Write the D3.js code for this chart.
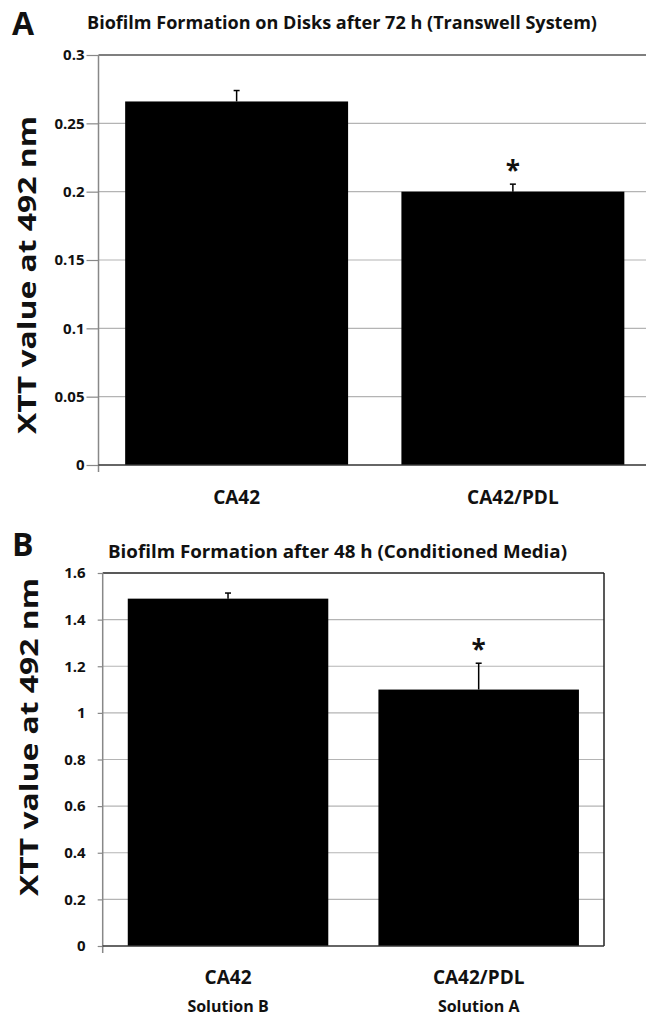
<!DOCTYPE html>
<html>
<head>
<meta charset="utf-8">
<script src="https://cdn.jsdelivr.net/npm/d3@7"></script>
<style>
  body { margin: 0; background: #fff; }
  text { font-family: "Open Sans", "Liberation Sans", sans-serif; font-weight: 700; fill: #111; }
</style>
</head>
<body>
<div id="chart"></div>
<script>
const width = 646, height = 1019;

// data
const categories = ["CA42", "CA42/PDL"];
const subLabels = ["Solution B", "Solution A"];
const valuesA = [0.266, 0.200];
const errorsA = [0.008, 0.0055];
const valuesB = [1.49, 1.10];
const errorsB = [0.024, 0.113];
const ticksA = [0, 0.05, 0.1, 0.15, 0.2, 0.25, 0.3];
const ticksB = [0, 0.2, 0.4, 0.6, 0.8, 1, 1.2, 1.4, 1.6];
const starsA = ["", "*"];
const starsB = ["", "*"];

const svg = d3.select("#chart")
  .append("svg")
  .attr("width", width)
  .attr("height", height);

function panel(opt) {
  let x = d3.scaleBand()
    .domain(categories)
    .range([opt.left, opt.right])
    .paddingInner(opt.gap)
    .paddingOuter(opt.gap / 2);

  let y = d3.scaleLinear()
    .domain([0, opt.max])
    .range([opt.bottom, opt.top]);

  let g = svg.append("g");

  // gridlines
  g.selectAll(".grid")
    .data(opt.ticks.filter(t => t > 0 && t < opt.max))
    .join("line")
    .attr("x1", opt.left).attr("x2", opt.right)
    .attr("y1", d => y(d)).attr("y2", d => y(d))
    .attr("stroke", "#b4b4b4")
    .attr("stroke-width", 1.2);

  // frame top / right
  g.append("line")
    .attr("x1", opt.left).attr("x2", opt.right)
    .attr("y1", y(opt.max)).attr("y2", y(opt.max))
    .attr("stroke", opt.frameColor).attr("stroke-width", 1.5);
  if (opt.rightBorder) {
    g.append("line")
      .attr("x1", opt.right).attr("x2", opt.right)
      .attr("y1", y(opt.max)).attr("y2", y(0))
      .attr("stroke", "#222").attr("stroke-width", 1.5);
  }

  // bars
  g.selectAll(".bar")
    .data(opt.values)
    .join("rect")
    .attr("x", (d, i) => x(categories[i]))
    .attr("width", x.bandwidth())
    .attr("y", d => y(d))
    .attr("height", d => y(0) - y(d))
    .attr("fill", "#000");

  // error bars (upper only)
  let cx = i => x(categories[i]) + x.bandwidth() / 2;
  g.selectAll(".err")
    .data(opt.values)
    .join("line")
    .attr("x1", (d, i) => cx(i)).attr("x2", (d, i) => cx(i))
    .attr("y1", d => y(d))
    .attr("y2", (d, i) => y(d + opt.errors[i]))
    .attr("stroke", "#000").attr("stroke-width", 1.5);
  g.selectAll(".cap")
    .data(opt.values)
    .join("line")
    .attr("x1", (d, i) => cx(i) - 3).attr("x2", (d, i) => cx(i) + 3)
    .attr("y1", (d, i) => y(d + opt.errors[i]))
    .attr("y2", (d, i) => y(d + opt.errors[i]))
    .attr("stroke", "#000").attr("stroke-width", 1.5);

  // significance stars
  g.selectAll(".star")
    .data(opt.stars)
    .join("text")
    .attr("x", (d, i) => cx(i))
    .attr("y", (d, i) => y(opt.values[i] + opt.errors[i]) - 4)
    .attr("text-anchor", "middle")
    .attr("font-size", 26)
    .text(d => d);

  // y axis
  let ya = g.append("g")
    .attr("transform", `translate(${opt.left},0)`)
    .call(d3.axisLeft(y)
      .tickValues(opt.ticks)
      .tickSize(opt.tickLen)
      .tickSizeOuter(0)
      .tickPadding(opt.tickPad)
      .tickFormat(d => d3.format("~g")(d)));
  ya.select(".domain").remove();
  ya.selectAll(".tick line").attr("stroke", "#888").attr("stroke-width", 1.2);
  ya.selectAll(".tick text")
    .attr("font-size", 15)
    .attr("font-family", null)
    .attr("fill", "#111");

  g.append("line")
    .attr("x1", opt.left).attr("x2", opt.left)
    .attr("y1", y(opt.max)).attr("y2", y(0) + 7)
    .attr("stroke", "#888").attr("stroke-width", 1.5);

  // x axis line
  g.append("line")
    .attr("x1", opt.left).attr("x2", opt.right)
    .attr("y1", y(0)).attr("y2", y(0))
    .attr("stroke", "#333").attr("stroke-width", 1.5);

  // category labels
  g.selectAll(".cat")
    .data(categories)
    .join("text")
    .attr("x", (d, i) => cx(i))
    .attr("y", opt.catY)
    .attr("text-anchor", "middle")
    .attr("font-size", 19)
    .text(d => d);

  if (opt.subs) {
    g.selectAll(".sub")
      .data(opt.subs)
      .join("text")
      .attr("x", (d, i) => cx(i))
      .attr("y", opt.catY + 28)
      .attr("text-anchor", "middle")
      .attr("font-size", 16)
      .text(d => d);
  }

  // y axis title
  g.append("text")
    .attr("transform", `translate(${opt.ytX},${opt.ytY}) rotate(-90)`)
    .attr("text-anchor", "middle")
    .attr("font-size", 25)
    .attr("textLength", 318)
    .attr("lengthAdjust", "spacingAndGlyphs")
    .text("XTT value at 492 nm");

  // panel letter and title
  g.append("text")
    .attr("x", opt.letterX).attr("y", opt.letterY)
    .attr("font-size", 32)
    .text(opt.letter);

  g.append("text")
    .attr("x", opt.titleX).attr("y", opt.titleY)
    .attr("font-size", 17)
    .attr("textLength", opt.titleLen)
    .attr("lengthAdjust", "spacingAndGlyphs")
    .text(opt.title);
}

panel({
  letter: "A", letterX: 12, letterY: 35,
  title: "Biofilm Formation on Disks after 72 h (Transwell System)",
  titleX: 87, titleY: 29, titleLen: 510,
  values: valuesA, errors: errorsA, stars: starsA, ticks: ticksA, max: 0.3,
  left: 98.5, right: 651, top: 55, bottom: 465, gap: 0.193,
  tickLen: 12, tickPad: 2, frameColor: "#555", rightBorder: false,
  catY: 504, ytX: 36, ytY: 275
});

panel({
  letter: "B", letterX: 12, letterY: 556,
  title: "Biofilm Formation after 48 h (Conditioned Media)",
  titleX: 108, titleY: 558, titleLen: 459,
  values: valuesB, errors: errorsB, stars: starsB, ticks: ticksB, max: 1.6,
  left: 102.7, right: 604, top: 573, bottom: 946, gap: 0.2,
  tickLen: 5, tickPad: 12, frameColor: "#222", rightBorder: true,
  catY: 984, subs: subLabels, ytX: 38, ytY: 737
});
</script>
</body>
</html>
